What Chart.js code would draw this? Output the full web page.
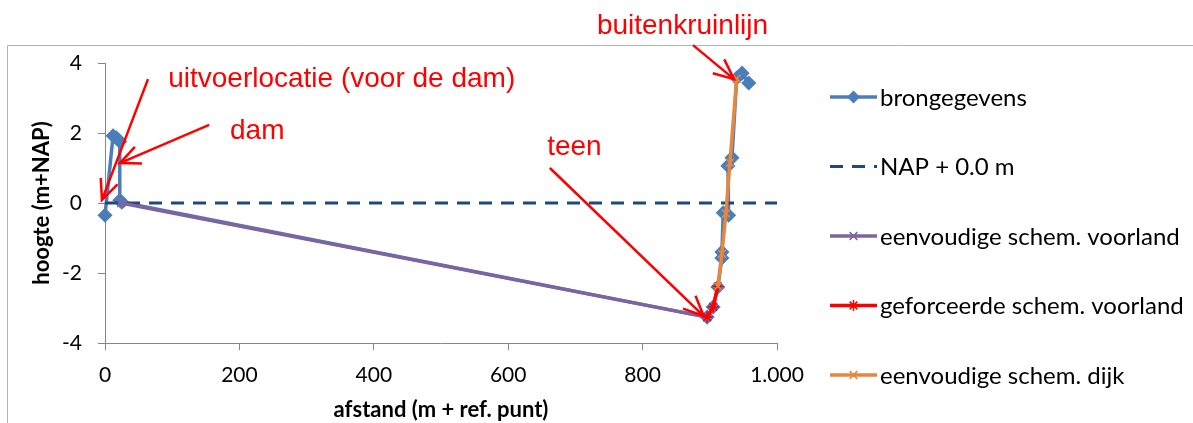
<!DOCTYPE html>
<html>
<head>
<meta charset="utf-8">
<script src="https://cdn.jsdelivr.net/npm/chart.js@4.4.0/dist/chart.umd.min.js"></script>
<style>
  html, body { margin: 0; padding: 0; background: #fff; overflow: hidden; }
</style>
</head>
<body>
<canvas id="c" width="1193" height="423"></canvas>
<script>
  // --- data (x = afstand, y = hoogte) ---
  var brongegevens = [[0, -0.35], [12, 1.92], [17, 1.86], [22, 1.76], [22, 0.08], [25, 0.02],
    [896, -3.26], [905, -2.97], [912, -2.4], [918, -1.57], [918, -1.4], [920, -0.28], [928, -0.35],
    [927, 1.06], [933, 1.29], [940, 3.57], [948, 3.71], [958, 3.43]];
  var napLijn = [[0, 0], [1000, 0]];
  var eenvVoorland = [[24, 0], [896, -3.26]];
  var gefVoorland = [[896, -3.26], [905, -2.97], [912, -2.38]];
  var eenvDijk = [[912, -2.38], [918, -1.45], [924, -0.3], [930, 1.15], [940, 3.55]];

  var seriesNames = ["brongegevens", "NAP + 0.0 m", "eenvoudige schem. voorland",
    "geforceerde schem. voorland", "eenvoudige schem. dijk"];
  var xTickLabels = ["0", "200", "400", "600", "800", "1.000"];
  var yTickLabels = ["-4", "-2", "0", "2", "4"];

  // annotation texts with their anchor (data units) and arrow from/to
  var notes = ["buitenkruinlijn", "uitvoerlocatie (voor de dam)", "dam", "teen"];
  var noteAnchor = [[732, 4.83], [94, 3.31], [186, 1.83], [658, 1.37]];
  var arrowFrom = [[875, 4.51], [64, 3.54], [155, 2.23], [662, 1.0]];
  var arrowTo = [[936, 3.54], [-4.5, 0.09], [22.3, 1.14], [891, -3.23]];

  function pts(arr) {
    return arr.map(function(p) { return { x: p[0], y: p[1] }; });
  }

  var AXIS = "#868686";
  var FONT = "Lato";

  function drawMarker(ctx, style, x, y, r, color) {
    ctx.save();
    ctx.fillStyle = color;
    ctx.strokeStyle = color;
    ctx.setLineDash([]);
    ctx.lineWidth = 1.5;
    ctx.beginPath();
    if (style === "rectRot") {
      ctx.moveTo(x, y - r); ctx.lineTo(x + r, y); ctx.lineTo(x, y + r); ctx.lineTo(x - r, y);
      ctx.closePath(); ctx.fill();
    } else if (style === "crossRot" || style === "star") {
      ctx.moveTo(x - r * 0.7, y - r * 0.7); ctx.lineTo(x + r * 0.7, y + r * 0.7);
      ctx.moveTo(x + r * 0.7, y - r * 0.7); ctx.lineTo(x - r * 0.7, y + r * 0.7);
      if (style === "star") { ctx.moveTo(x, y - r); ctx.lineTo(x, y + r); }
      ctx.stroke();
    }
    ctx.restore();
  }

  var extras = {
    id: "extras",
    beforeDraw: function(chart) {
      var ctx = chart.ctx;
      ctx.save();
      ctx.fillStyle = "#fff";
      ctx.fillRect(0, 0, chart.width, chart.height);
      ctx.strokeStyle = "#b4b4b4";
      ctx.lineWidth = 1;
      ctx.beginPath();
      ctx.moveTo(7.5, chart.height);
      ctx.lineTo(7.5, 45.5);
      ctx.lineTo(chart.width, 45.5);
      ctx.stroke();
      ctx.restore();
    },
    afterDraw: function(chart) {
      var ctx = chart.ctx;
      var xs = chart.scales.x, ys = chart.scales.y;

      // legend on the right
      ctx.save();
      ctx.font = "24px " + FONT;
      ctx.textBaseline = "middle";
      ctx.fillStyle = "#000";
      chart.data.datasets.forEach(function(ds, i) {
        var y = 97 + i * 69.5;
        ctx.save();
        ctx.strokeStyle = ds.borderColor;
        ctx.lineWidth = ds.borderWidth;
        ctx.setLineDash(ds.borderDash || []);
        ctx.beginPath();
        ctx.moveTo(830, y);
        ctx.lineTo(877, y);
        ctx.stroke();
        ctx.restore();
        if (ds.pointRadius > 0) drawMarker(ctx, ds.pointStyle, 853.5, y, ds.pointRadius, ds.pointBackgroundColor);
        ctx.fillText(ds.label, 880, y + 1);
      });
      ctx.restore();

      // red annotations with arrows
      ctx.save();
      ctx.strokeStyle = "#ff0000";
      ctx.fillStyle = "#ff0000";
      ctx.lineWidth = 2.5;
      ctx.font = "28px 'Liberation Sans'";
      ctx.textBaseline = "alphabetic";
      notes.forEach(function(t, i) {
        ctx.fillText(t, xs.getPixelForValue(noteAnchor[i][0]), ys.getPixelForValue(noteAnchor[i][1]));
        var x0 = xs.getPixelForValue(arrowFrom[i][0]), y0 = ys.getPixelForValue(arrowFrom[i][1]);
        var x1 = xs.getPixelForValue(arrowTo[i][0]), y1 = ys.getPixelForValue(arrowTo[i][1]);
        var a = Math.atan2(y1 - y0, x1 - x0), h = 22, w = 0.42;
        ctx.beginPath();
        ctx.moveTo(x0, y0); ctx.lineTo(x1, y1);
        ctx.moveTo(x1 - h * Math.cos(a - w), y1 - h * Math.sin(a - w));
        ctx.lineTo(x1, y1);
        ctx.lineTo(x1 - h * Math.cos(a + w), y1 - h * Math.sin(a + w));
        ctx.stroke();
      });
      ctx.restore();
    }
  };

  function lineSet(label, data, color, width, style, radius, order, dash) {
    return {
      label: label, data: pts(data), showLine: true, borderColor: color, backgroundColor: color,
      borderWidth: width, borderDash: dash || [], pointStyle: style, pointRadius: radius,
      pointBackgroundColor: color, pointBorderColor: color, pointBorderWidth: 1.5,
      order: order, clip: false, tension: 0
    };
  }

  new Chart(document.getElementById("c"), {
    type: "scatter",
    data: {
      datasets: [
        lineSet(seriesNames[0], brongegevens, "#4a7ebb", 3.5, "rectRot", 6.5, 5),
        lineSet(seriesNames[1], napLijn, "#1f497d", 3, false, 0, 4, [13, 9]),
        lineSet(seriesNames[2], eenvVoorland, "#7f63a1", 3.5, "crossRot", 5.5, 3),
        lineSet(seriesNames[3], gefVoorland, "#ff0000", 3.5, "star", 5.5, 2),
        lineSet(seriesNames[4], eenvDijk, "#e8873c", 3.5, "crossRot", 5.5, 1)
      ]
    },
    options: {
      responsive: false,
      animation: false,
      events: [],
      layout: { padding: { left: 0, top: 63, right: 416, bottom: 0 } },
      plugins: { legend: { display: false }, tooltip: { enabled: false } },
      scales: {
        x: {
          type: "linear", position: "bottom", min: 0, max: 1000,
          afterFit: function(s) { s.height = 80; },
          border: { color: AXIS, width: 1 },
          grid: { drawOnChartArea: false, color: AXIS, tickLength: 7 },
          ticks: {
            stepSize: 200, padding: 13, color: "#000", font: { family: FONT, size: 21 },
            callback: function(v, i) { return xTickLabels[i]; }
          },
          title: {
            display: true, text: "afstand (m + ref. punt)", color: "#000",
            font: { family: FONT, size: 22, weight: "bold" }, padding: { top: 0, bottom: 0 }
          }
        },
        y: {
          min: -4, max: 4,
          afterFit: function(s) { s.width = 105; },
          border: { color: AXIS, width: 1 },
          grid: { drawOnChartArea: false, color: AXIS, tickLength: 7 },
          ticks: {
            stepSize: 2, padding: 16, color: "#000", font: { family: FONT, size: 21 },
            callback: function(v, i) { return yTickLabels[i]; }
          },
          title: {
            display: true, text: "hoogte (m+NAP)", color: "#000",
            font: { family: FONT, size: 22, weight: "bold" }, padding: { top: 29, bottom: 4 }
          }
        }
      }
    },
    plugins: [extras]
  });
</script>
</body>
</html>
